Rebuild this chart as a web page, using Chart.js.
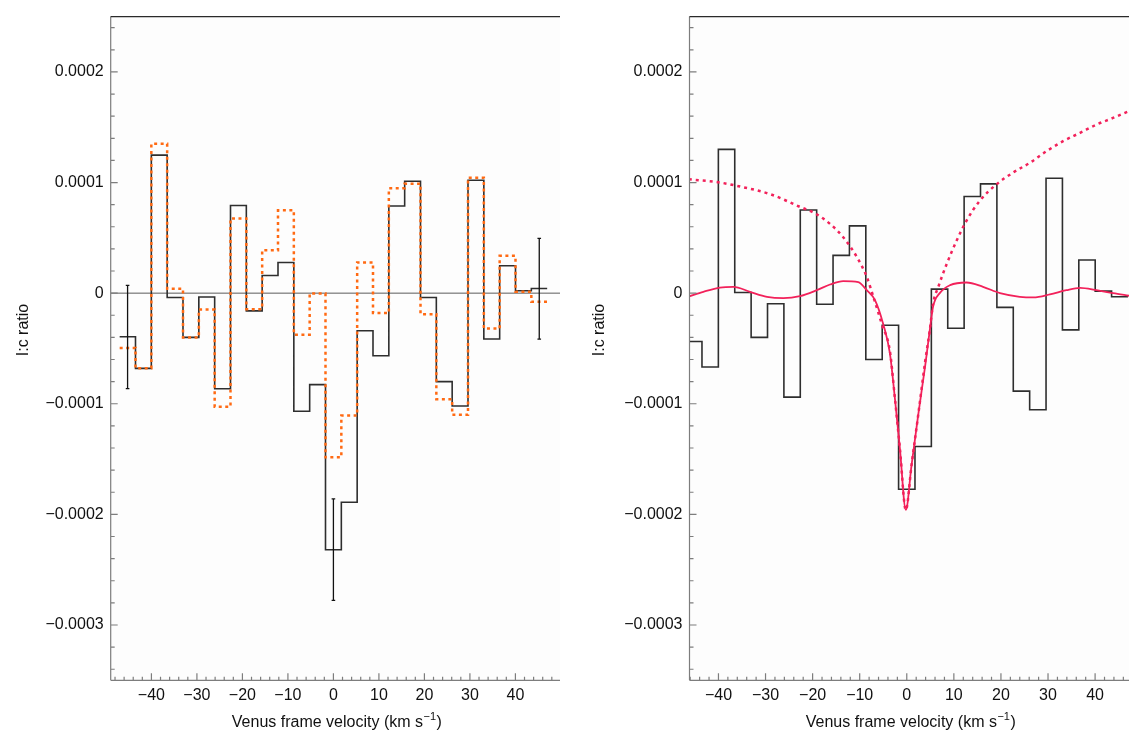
<!DOCTYPE html>
<html><head><meta charset="utf-8">
<script src="https://cdn.jsdelivr.net/npm/chart.js@4"></script>
<style>
html,body{margin:0;padding:0;background:#fff;width:1129px;height:731px;overflow:hidden}
canvas{position:absolute;top:0}
#c1{left:0}
#c2{left:565px}
</style></head><body>
<canvas id="c1" width="563" height="731"></canvas>
<canvas id="c2" width="564" height="731"></canvas>
<script>
// ---- DATA (I:c ratio values in units of 1e-4) ----
const binCenters = [-45.24,-41.76,-38.28,-34.8,-31.32,-27.84,-24.36,-20.88,-17.4,-13.92,-10.44,-6.96,-3.48,0,3.48,6.96,10.44,13.92,17.4,20.88,24.36,27.84,31.32,34.8,38.28,41.76,45.24];
const binWidth = 3.48;

const leftBlack  = [-0.394,-0.68,1.248,-0.04,-0.40,-0.035,-0.864,0.792,-0.16,0.16,0.277,-1.068,-0.827,-2.32,-1.89,-0.34,-0.566,0.788,1.011,-0.039,-0.80,-1.02,1.02,-0.415,0.247,0.021,0.042];
const leftOrange = [-0.495,-0.68,1.35,0.04,-0.40,-0.147,-1.027,0.675,-0.145,0.388,0.749,-0.376,-0.003,-1.484,-1.107,0.277,-0.18,0.948,0.99,-0.19,-0.96,-1.10,1.044,-0.319,0.337,0.012,-0.078];

const errCenters = [-45.24, 0, 45.24];
const errLow  = [-0.864, -2.777, -0.415];
const errHigh = [0.07, -1.859, 0.496];

const rightBlack = [-0.437,-0.668,1.30,0.006,-0.40,-0.096,-0.94,0.751,-0.10,0.341,0.608,-0.60,-0.29,-1.773,-1.387,0.036,-0.317,0.874,0.988,-0.129,-0.886,-1.054,1.039,-0.332,0.30,0.018,-0.033];

const modelV     = [-46.3,-43.2,-39.7,-36.8,-33.3,-29.7,-26.2,-22.7,-19.1,-16.3,-13.5,-10.3,-8.5,-6.75,-5.0,-3.6,-2.5,-1.45,-0.2,1.0,2.4,3.9,4.9,5.6,7.0,9.2,12.7,16.2,19.8,24.0,26.9,30.4,33.9,36.8,40.3,43.8,47.3];
const modelSolid = [-0.03,0.012,0.05,0.057,0.012,-0.033,-0.045,-0.027,0.027,0.078,0.108,0.099,0.027,-0.063,-0.28,-0.54,-0.96,-1.41,-1.96,-1.56,-1.11,-0.66,-0.33,-0.12,0.0,0.072,0.096,0.057,0.0,-0.033,-0.039,-0.012,0.027,0.048,0.027,0.0,-0.024];

const dottedV    = [-46.3,-39.7,-36.1,-29.0,-22.7,-19.2,-16.3,-13.5,-10.6,-8.5,-7.1,-5.3,-3.6,-2.5,-1.45,-0.2,1.0,2.4,3.9,4.9,5.6,6.7,8.5,10.6,12.7,15.5,19.1,22.6,26.2,29.7,33.2,36.8,40.3,43.8,47.3];
const modelDotted= [1.03,1.0,0.97,0.895,0.78,0.715,0.626,0.506,0.326,0.147,-0.033,-0.28,-0.52,-0.96,-1.41,-1.96,-1.56,-1.11,-0.62,-0.33,-0.093,0.057,0.266,0.476,0.656,0.835,0.985,1.09,1.18,1.284,1.374,1.449,1.524,1.584,1.648];

const yTickValues = [-3,-2,-1,0,1,2];
const yTickLabels = ['\u22120.0003','\u22120.0002','\u22120.0001','0','0.0001','0.0002'];
const xTickValues = [-40,-30,-20,-10,0,10,20,30,40];
const xTickLabels = ['\u221240','\u221230','\u221220','\u221210','0','10','20','30','40'];
const xTitle = ['Venus frame velocity (km s', '\u22121', ')'];
const yTitle = 'I:c ratio';

// ---- helpers ----
const FONT = "'Liberation Sans', Arial, Helvetica, sans-serif";
function histPoints(vals){
  const pts = vals.map((v,i)=>({x: binCenters[i]-binWidth/2, y: v}));
  pts.push({x: binCenters[binCenters.length-1]+binWidth/2, y: vals[vals.length-1]});
  return pts;
}
function curvePoints(xs, ys){ return xs.map((x,i)=>({x:x, y:ys[i]})); }

function makeScales(xmin, xmax, yAxisWidth){
  return {
    x: {type:'linear', min:xmin, max:xmax,
        grid:{display:false, drawTicks:false}, border:{display:false},
        afterBuildTicks: s => { s.ticks = xTickValues.map(v=>({value:v})); },
        afterFit: s => { s.height = 50.7; },
        ticks:{autoSkip:false, maxRotation:0, minRotation:0, padding:6,
               font:{family:FONT,size:16}, color:'#111',
               callback:(v,i)=> xTickLabels[i] }},
    y: {type:'linear', min:-3.5, max:2.5,
        grid:{display:false, drawTicks:false}, border:{display:false},
        afterBuildTicks: s => { s.ticks = yTickValues.map(v=>({value:v})); },
        afterFit: s => { s.width = yAxisWidth; },
        ticks:{padding:7, font:{family:FONT,size:16}, color:'#111',
               callback:(v,i)=> yTickLabels[i] }}
  };
}

const deco = {
  id:'deco',
  beforeDatasetsDraw(chart, args, o){
    const {ctx, chartArea:a, scales:{y}} = chart;
    ctx.save();
    ctx.fillStyle = '#fdfdfd';
    ctx.fillRect(a.left, a.top, a.right-a.left, a.bottom-a.top);
    if(o.zeroLine){
      const y0 = y.getPixelForValue(0);
      ctx.strokeStyle = '#5a5a5a'; ctx.lineWidth = 1;
      ctx.beginPath(); ctx.moveTo(a.left, y0); ctx.lineTo(a.right, y0); ctx.stroke();
    }
    ctx.restore();
  },
  afterDatasetsDraw(chart, args, o){
    const {ctx, chartArea:a, scales:{x,y}} = chart;
    ctx.save();
    if(o.errors){
      ctx.strokeStyle = '#111'; ctx.lineWidth = 1.3;
      for(let i=0;i<errCenters.length;i++){
        const px = x.getPixelForValue(errCenters[i]);
        const yl = y.getPixelForValue(errLow[i]);
        const yh = y.getPixelForValue(errHigh[i]);
        ctx.beginPath();
        ctx.moveTo(px, yl); ctx.lineTo(px, yh);
        ctx.moveTo(px-1.8, yl); ctx.lineTo(px+1.8, yl);
        ctx.moveTo(px-1.8, yh); ctx.lineTo(px+1.8, yh);
        ctx.stroke();
      }
    }
    // axes
    ctx.strokeStyle = '#7d7d7d'; ctx.lineWidth = 1.2;
    ctx.beginPath();
    ctx.moveTo(a.left, a.top); ctx.lineTo(a.left, a.bottom);
    ctx.moveTo(a.left, a.bottom); ctx.lineTo(a.right, a.bottom);
    for(let i=-17;i<=12;i++){
      const py = y.getPixelForValue(i*0.2);
      const len = (i%5===0) ? 7 : 4;
      ctx.moveTo(a.left, py); ctx.lineTo(a.left+len, py);
    }
    for(let v=-48; v<=48; v+=2){
      if(v < x.min || v > x.max) continue;
      const px = x.getPixelForValue(v);
      const len = (v%10===0) ? 7 : 3.5;
      ctx.moveTo(px, a.bottom); ctx.lineTo(px, a.bottom-len);
    }
    ctx.stroke();
    // top frame
    ctx.strokeStyle = '#2a2a2a'; ctx.lineWidth = 1.3;
    ctx.beginPath(); ctx.moveTo(a.left, a.top); ctx.lineTo(a.right, a.top); ctx.stroke();
    // titles
    ctx.fillStyle = '#111';
    ctx.textBaseline = 'alphabetic';
    ctx.textAlign = 'left';
    const f1 = '16px ' + FONT, f2 = '11px ' + FONT;
    ctx.font = f1; const w1 = ctx.measureText(xTitle[0]).width; const w3 = ctx.measureText(xTitle[2]).width;
    ctx.font = f2; const w2 = ctx.measureText(xTitle[1]).width;
    const cx = (a.left + a.right)/2;
    let sx = cx - (w1+w2+w3)/2 + 1;
    const by = 726.5;
    ctx.font = f1; ctx.fillText(xTitle[0], sx, by);
    ctx.font = f2; ctx.fillText(xTitle[1], sx + w1 + 0.5, by - 7);
    ctx.font = f1; ctx.fillText(xTitle[2], sx + w1 + w2 + 1, by);
    ctx.save();
    ctx.translate(o.yTitleX, 330);
    ctx.rotate(-Math.PI/2);
    ctx.textAlign = 'center'; ctx.textBaseline = 'middle';
    ctx.font = f1;
    ctx.fillText(yTitle, 0, 0);
    ctx.restore();
    ctx.restore();
  }
};

const common = {
  responsive:false, animation:false, devicePixelRatio:1,
  plugins:{legend:{display:false}, tooltip:{enabled:false}},
  elements:{point:{radius:0}}
};

new Chart(document.getElementById('c1'), {
  type:'line',
  data:{datasets:[
    {data: histPoints(leftOrange), stepped:true, borderColor:'#ff6a13', borderWidth:2.5, borderDash:[3,3.5], fill:false, pointRadius:0},
    {data: histPoints(leftBlack), stepped:true, borderColor:'#2e2e2e', borderWidth:1.6, fill:false, pointRadius:0}
  ]},
  options: Object.assign({}, common, {
    layout:{padding:{left:0, right:3, top:14.8, bottom:0}},
    scales: makeScales(-48.95, 49.8, 110.7),
    plugins: Object.assign({}, common.plugins, {deco:{zeroLine:true, errors:true, yTitleX:24}})
  }),
  plugins:[deco]
});

new Chart(document.getElementById('c2'), {
  type:'line',
  data:{datasets:[
    {data: curvePoints(dottedV, modelDotted), borderColor:'#f2215a', borderWidth:2.5, borderDash:[3,4], cubicInterpolationMode:'monotone', fill:false, pointRadius:0},
    {data: curvePoints(modelV, modelSolid), borderColor:'#f2215a', borderWidth:1.8, cubicInterpolationMode:'monotone', fill:false, pointRadius:0},
    {data: histPoints(rightBlack), stepped:true, borderColor:'#2e2e2e', borderWidth:1.6, fill:false, pointRadius:0}
  ]},
  options: Object.assign({}, common, {
    layout:{padding:{left:0, right:0, top:14.8, bottom:0}},
    scales: makeScales(-46.15, 47.2, 124.5),
    plugins: Object.assign({}, common.plugins, {deco:{zeroLine:false, errors:false, yTitleX:35}})
  }),
  plugins:[deco]
});
</script>
</body></html>
